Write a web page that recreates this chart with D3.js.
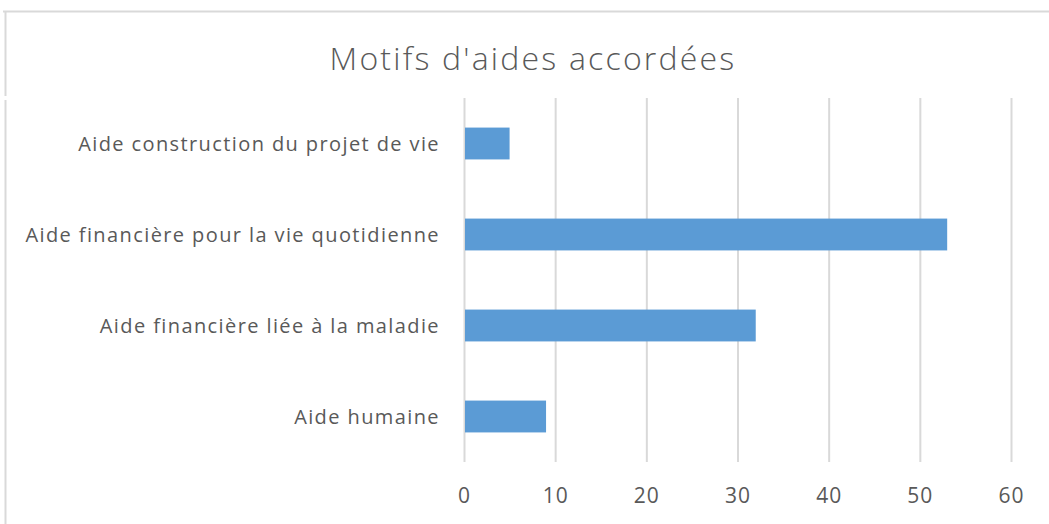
<!DOCTYPE html>
<html>
<head>
<meta charset="utf-8">
<script src="https://cdn.jsdelivr.net/npm/d3@7"></script>
<style>
  body { margin: 0; background: #fff; }
  text { font-family: "Open Sans", sans-serif; fill: #595959; }
</style>
</head>
<body>
<div id="chart"></div>
<script>
// motifs et nombre d'aides
var categories = ["Aide construction du projet de vie", "Aide financière pour la vie quotidienne", "Aide financière liée à la maladie", "Aide humaine"];
var values = [5, 53, 32, 9];
var ticks = [0, 10, 20, 30, 40, 50, 60];

var width = 1049, height = 524;
var margin = {top: 98, left: 464, right: 38, bottom: 62};

var svg = d3.select('#chart').append('svg')
  .attr('width', width)
  .attr('height', height);

// cadre (haut + gauche)
svg.append('line').attr('x1', 3).attr('x2', width).attr('y1', 11.5).attr('y2', 11.5)
  .attr('stroke', '#d9d9d9').attr('stroke-width', 2);
svg.append('line').attr('x1', 5.5).attr('x2', 5.5).attr('y1', 11).attr('y2', 96)
  .attr('stroke', '#d9d9d9').attr('stroke-width', 2);
svg.append('line').attr('x1', 5.5).attr('x2', 5.5).attr('y1', 100).attr('y2', height)
  .attr('stroke', '#d9d9d9').attr('stroke-width', 2);

svg.append('text')
  .attr('x', 533).attr('y', 70)
  .attr('text-anchor', 'middle')
  .style('font-size', '32px')
  .style('font-weight', 300)
  .style('letter-spacing', '2.2px')
  .text("Motifs d'aides accordées");

var x = d3.scaleLinear().domain([0, 60]).range([margin.left, width - margin.right]);
var y = d3.scaleBand().domain(categories).range([margin.top, height - margin.bottom]).paddingInner(0.65).paddingOuter(0.325);

var grid = svg.append('g')
  .attr('transform', 'translate(0,' + (height - margin.bottom) + ')')
  .call(d3.axisBottom(x).tickValues(ticks).tickSize(-(height - margin.bottom - margin.top)).tickPadding(26));
grid.select('.domain').remove();
grid.selectAll('line').attr('stroke', '#d9d9d9').attr('stroke-width', 2);
grid.selectAll('text').style('font-size', '21px').style('letter-spacing', '1px').attr('fill', '#595959');

svg.append('g').selectAll('rect')
  .data(values)
  .enter().append('rect')
  .attr('x', x(0) + 1)
  .attr('y', function(d, i) { return y(categories[i]); })
  .attr('width', function(d) { return x(d) - x(0) - 1; })
  .attr('height', y.bandwidth())
  .attr('fill', '#5b9bd5');

svg.append('g').selectAll('text')
  .data(categories)
  .enter().append('text')
  .attr('x', 440)
  .attr('y', function(d) { return y(d) + y.bandwidth() / 2; })
  .attr('dy', '0.35em')
  .attr('text-anchor', 'end')
  .style('font-size', '20px')
  .style('letter-spacing', '1.4px')
  .text(function(d) { return d; });
</script>
</body>
</html>
